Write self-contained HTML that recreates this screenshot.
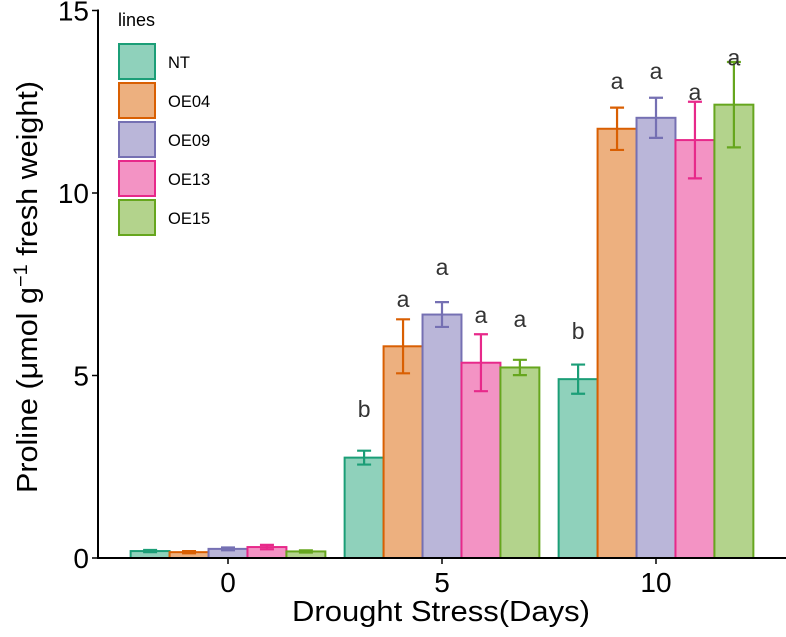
<!DOCTYPE html>
<html><head><meta charset="utf-8"><style>
html,body{margin:0;padding:0;background:#fff;}
svg{display:block;font-family:"Liberation Sans",Arial,sans-serif;}
</style></head><body>
<svg id="chart" width="786" height="637" viewBox="0 0 786 637">
<g id="bars"></g>
<g id="axes"></g>
<g id="legend"></g>
<text x="441" y="621" font-size="29" text-anchor="middle" textLength="298" lengthAdjust="spacingAndGlyphs" fill="#000">Drought Stress(Days)</text>
<text transform="translate(37,287) rotate(-90)" font-size="29" text-anchor="middle" textLength="412" lengthAdjust="spacingAndGlyphs" fill="#000">Proline (μmol g<tspan baseline-shift="super" font-size="19">−1</tspan> fresh weight)</text>
</svg>
<script>
const categories = ['0','5','10'];
const lines = ['NT','OE04','OE09','OE13','OE15'];
const meanNT   = [0.19, 2.75, 4.9];
const meanOE04 = [0.16, 5.8, 11.76];
const meanOE09 = [0.25, 6.67, 12.06];
const meanOE13 = [0.3, 5.35, 11.45];
const meanOE15 = [0.18, 5.22, 12.42];
const errNT   = [0.03, 0.19, 0.4];
const errOE04 = [0.03, 0.74, 0.58];
const errOE09 = [0.04, 0.34, 0.55];
const errOE13 = [0.06, 0.78, 1.05];
const errOE15 = [0.03, 0.21, 1.17];
const lettersNT   = ['', 'b', 'b'];
const lettersOE04 = ['', 'a', 'a'];
const lettersOE09 = ['', 'a', 'a'];
const lettersOE13 = ['', 'a', 'a'];
const lettersOE15 = ['', 'a', 'a'];
const letterYNT   = [0, 3.86, 6.0];
const letterYOE04 = [0, 6.88, 12.85];
const letterYOE09 = [0, 7.75, 13.12];
const letterYOE13 = [0, 6.44, 12.55];
const letterYOE15 = [0, 6.33, 13.5];
const yTicks = [0, 5, 10, 15];

const means=[meanNT,meanOE04,meanOE09,meanOE13,meanOE15];
const errs=[errNT,errOE04,errOE09,errOE13,errOE15];
const letters=[lettersNT,lettersOE04,lettersOE09,lettersOE13,lettersOE15];
const letterYs=[letterYNT,letterYOE04,letterYOE09,letterYOE13,letterYOE15];
const fills=['#8FD1BB','#EDB07F','#BAB6D9','#F393C4','#B3D38C'];
const strokes=['#1B9E77','#D95F02','#7570B3','#E7298A','#66A61E'];
const NS='http://www.w3.org/2000/svg';
const y0=558, pxPerUnit=36.5;
function yS(v){return y0-v*pxPerUnit;}
const catStep=214, cat0=228, groupW=catStep*0.91, barW=groupW/lines.length;
function xS(i){return cat0+catStep*i;}
function mk(tag,attrs,parent){const e=document.createElementNS(NS,tag);for(const k in attrs)e.setAttribute(k,attrs[k]);parent.appendChild(e);return e;}
const gb=document.getElementById('bars');
categories.forEach((c,i)=>{
  lines.forEach((l,j)=>{
    const x=xS(i)-groupW/2+j*barW, v=means[j][i], e=errs[j][i];
    const r=mk('rect',{x:x,y:yS(v),width:barW,height:yS(0)-yS(v),fill:fills[j],stroke:strokes[j],'stroke-width':2},gb);
    
    
    const cx=x+barW/2, cw=7;
    const eb=mk('path',{d:`M${cx-cw},${yS(v+e)}H${cx+cw}M${cx},${yS(v+e)}V${yS(v-e)}M${cx-cw},${yS(v-e)}H${cx+cw}`,stroke:strokes[j],'stroke-width':2.2,fill:'none'},gb);
    
    
    if(letters[j][i]){
      const t=mk('text',{x:cx,y:yS(letterYs[j][i]),'font-size':23,'text-anchor':'middle',fill:'#333'},gb);
      t.textContent=letters[j][i];
      
      
    }
  });
});
const ga=document.getElementById('axes');
const yl=mk('line',{x1:98,y1:yS(15)-1,x2:98,y2:y0+1,stroke:'#000','stroke-width':2},ga);


const xl=mk('line',{x1:97,y1:y0,x2:786,y2:y0,stroke:'#000','stroke-width':2},ga);


yTicks.forEach(v=>{
  mk('line',{x1:92,y1:yS(v),x2:98,y2:yS(v),stroke:'#000','stroke-width':1.5},ga);
  const t=mk('text',{x:89,y:yS(v)+10,'font-size':28,'text-anchor':'end',fill:'#000'},ga);
  t.textContent=v;
  
  
});
categories.forEach((c,i)=>{
  mk('line',{x1:xS(i),y1:y0,x2:xS(i),y2:y0+6,stroke:'#000','stroke-width':1.5},ga);
  const t=mk('text',{x:xS(i),y:y0+34,'font-size':28,'text-anchor':'middle',fill:'#000'},ga);
  t.textContent=c;
  
  
});
const gl=document.getElementById('legend');
const lt=mk('text',{x:118,y:26,'font-size':18,fill:'#000'},gl);
lt.textContent='lines';


lines.forEach((l,j)=>{
  const y=44+j*39;
  const k=mk('rect',{x:119,y:y,width:36,height:35,fill:fills[j],stroke:strokes[j],'stroke-width':2},gl);
  
  
  const t=mk('text',{x:168,y:y+24,'font-size':16.5,fill:'#000'},gl);
  t.textContent=l;
  
  
});
</script>
</body></html>
